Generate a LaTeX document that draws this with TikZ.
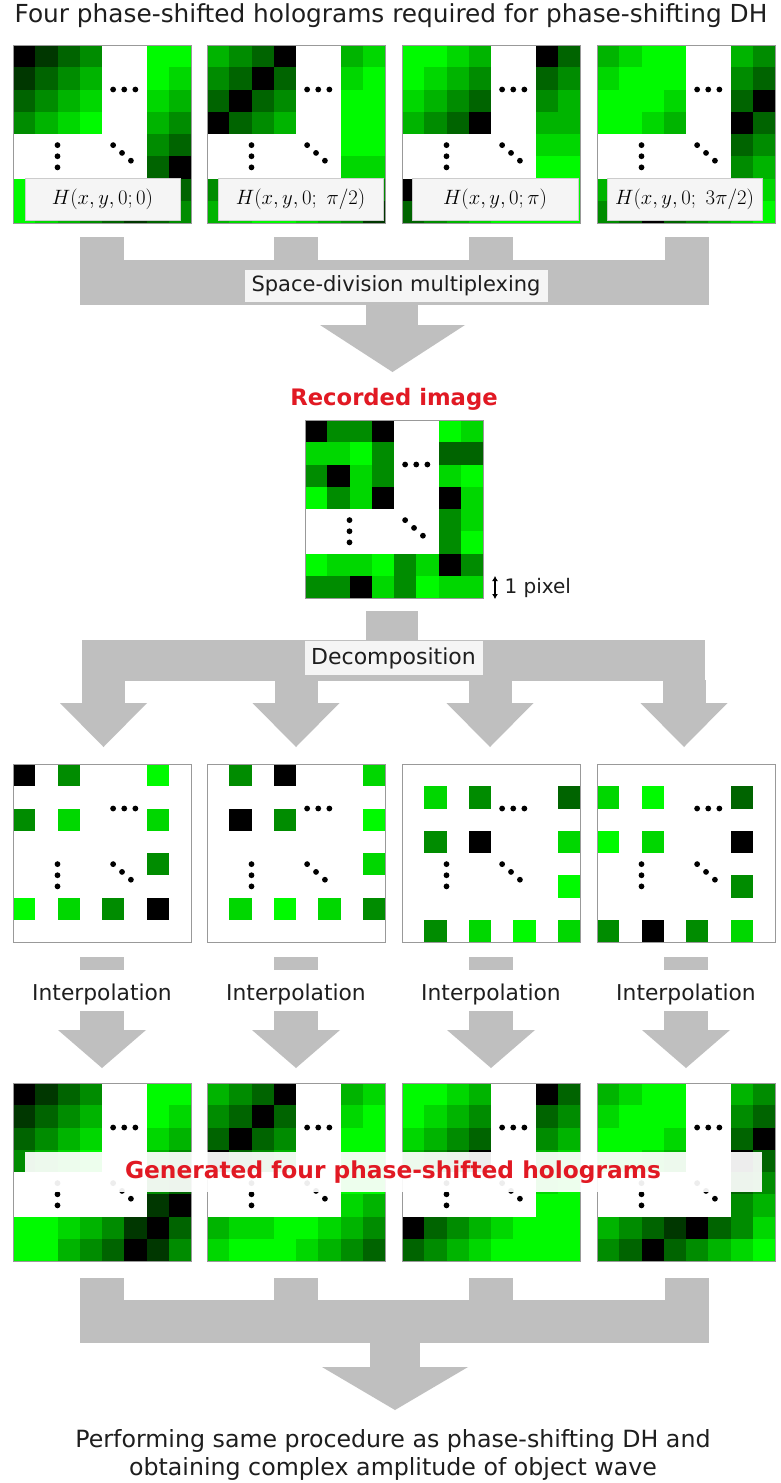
\documentclass[tikz,border=0pt]{standalone}
\usepackage{fontspec}
\setmainfont{DejaVu Sans}
\usetikzlibrary{arrows.meta}
\definecolor{k0}{RGB}{0,0,0}
\definecolor{k1}{RGB}{0,55,0}
\definecolor{k2}{RGB}{0,100,0}
\definecolor{k3}{RGB}{0,140,0}
\definecolor{k4}{RGB}{0,180,0}
\definecolor{k5}{RGB}{0,215,0}
\definecolor{k6}{RGB}{0,250,0}
\definecolor{ww}{RGB}{255,255,255}
\definecolor{ag}{RGB}{191,191,191}
\definecolor{redt}{RGB}{225,25,35}
\definecolor{lblfill}{RGB}{245,245,245}
\definecolor{txt}{RGB}{30,30,30}
\def\cellsz{22.25}
\newcommand\pixpanel[3]{%
  \foreach \prowlist [count=\prow from 0] in {#3}{%
    \foreach \pk [count=\pcol from 0] in \prowlist {%
      \fill[\pk] ({#1+\pcol*\cellsz},{#2+\prow*\cellsz}) rectangle ++(\cellsz+0.4,\cellsz+0.4);
    }%
  }%
}
\newcommand\sparsepanel[3]{%
  \foreach \pr/\pc/\pk in {#3}{%
    \fill[\pk] ({#1+\pc*\cellsz},{#2+\pr*\cellsz}) rectangle ++(\cellsz,\cellsz);
  }%
}
\newcommand\pdots[2]{%
  \foreach \dx/\dy in {4.5/2,5/2,5.5/2,2/4.5,2/5,2/5.5,4.5/4.5,4.9/4.85,5.3/5.2}{%
    \fill ({#1+\dx*\cellsz},{#2+\dy*\cellsz}) circle (2.9pt);
  }%
}
\newcommand\pframe[2]{\draw[gray!80, line width=0.8] (#1,#2) rectangle ++(178,178);}
\tikzset{
  lbl/.style={fill=lblfill, draw=gray!40, line width=0.6, inner sep=0pt, font=\fontsize{20}{23}\selectfont},
  barlbl/.style={fill=lblfill, inner sep=0pt, text=txt},
  redlbl/.style={text=redt, font=\fontsize{22.7}{26}\selectfont\bfseries},
  plain/.style={text=txt},
}
\begin{document}
\begin{tikzpicture}[x=1pt,y=-1pt]
\useasboundingbox (0,0) rectangle (781,1483);
\fill[white] (0,0) rectangle (781,1483);

% ---------- title
\node[plain, font=\fontsize{24.8}{28}\selectfont] (title) at (391,16) {Four phase-shifted holograms required for phase-shifting DH};

% ---------- top holograms
\pixpanel{13}{45}{{k0,k1,k2,k3,ww,ww,k6,k6},{k1,k2,k3,k4,ww,ww,k6,k5},{k2,k3,k4,k5,ww,ww,k5,k4},{k3,k4,k5,k6,ww,ww,k4,k3},{ww,ww,ww,ww,ww,ww,k3,k2},{ww,ww,ww,ww,ww,ww,k2,k0},{k6,k6,k5,k4,k3,k2,k1,k2},{k6,k5,k4,k3,k2,k1,k2,k3}}
\pixpanel{207}{45}{{k4,k3,k2,k0,ww,ww,k4,k5},{k3,k2,k0,k2,ww,ww,k5,k6},{k2,k0,k2,k3,ww,ww,k6,k6},{k0,k2,k3,k4,ww,ww,k6,k6},{ww,ww,ww,ww,ww,ww,k6,k6},{ww,ww,ww,ww,ww,ww,k5,k5},{k3,k4,k5,k6,k6,k5,k4,k3},{k4,k5,k6,k6,k5,k4,k3,k1}}
\pixpanel{402}{45}{{k6,k6,k5,k4,ww,ww,k0,k2},{k6,k5,k4,k3,ww,ww,k2,k3},{k5,k4,k3,k2,ww,ww,k3,k4},{k4,k3,k2,k0,ww,ww,k4,k4},{ww,ww,ww,ww,ww,ww,k5,k5},{ww,ww,ww,ww,ww,ww,k6,k6},{k0,k2,k3,k4,k5,k6,k6,k6},{k2,k3,k4,k5,k6,k6,k6,k6}}
\pixpanel{597}{45}{{k4,k5,k6,k6,ww,ww,k4,k3},{k5,k6,k6,k6,ww,ww,k3,k2},{k6,k6,k6,k5,ww,ww,k2,k0},{k6,k6,k5,k4,ww,ww,k0,k2},{ww,ww,ww,ww,ww,ww,k2,k3},{ww,ww,ww,ww,ww,ww,k3,k4},{k4,k3,k2,k1,k0,k2,k4,k5},{k3,k2,k0,k2,k3,k4,k5,k6}}
\foreach \px in {13,207,402,597}{\pdots{\px}{45}\pframe{\px}{45}}
\node[lbl, minimum width=155, minimum height=42] (h1) at (102.5,199) {$H(x,y,0;0)$};
\node[lbl, minimum width=165, minimum height=42] (h2) at (300.5,199) {$H(x,y,0;\ \pi/2)$};
\node[lbl, minimum width=166, minimum height=42] (h3) at (495,199) {$H(x,y,0;\pi)$};
\node[lbl, minimum width=155, minimum height=42] (h4) at (684.5,199) {$H(x,y,0;\ 3\pi/2)$};

% ---------- multiplexing arrow
\foreach \cx in {102,296,491,687}{\fill[ag] (\cx-22,237) rectangle (\cx+22,262);}
\fill[ag] (80,260) rectangle (709,305);
\fill[ag] (366,304) rectangle (418,326);
\fill[ag] (320,325) -- (465,325) -- (392.5,372) -- cycle;
\node[barlbl, minimum width=303, minimum height=32, font=\fontsize{21}{24}\selectfont] (sdm) at (396,286) {Space-division multiplexing};

% ---------- recorded image
\node[redlbl] (rec) at (394,399) {Recorded image};
\pixpanel{305}{420}{{k0,k3,k3,k0,ww,ww,k6,k5},{k5,k5,k6,k3,ww,ww,k2,k2},{k3,k0,k5,k3,ww,ww,k5,k6},{k6,k3,k5,k0,ww,ww,k0,k5},{ww,ww,ww,ww,ww,ww,k3,k5},{ww,ww,ww,ww,ww,ww,k3,k6},{k6,k5,k5,k6,k3,k5,k0,k3},{k3,k3,k0,k5,k3,k6,k5,k5}}
\pdots{305}{420}\pframe{305}{420}
\coordinate (pa) at (495,576);
\coordinate (pb) at (495,599);
\draw[{Latex[length=5pt,width=6pt]}-{Latex[length=5pt,width=6pt]}, line width=1.8] (pa) -- (pb);
\node[text=txt, anchor=west, font=\fontsize{20}{23}\selectfont] (onepix) at (501,588) {1 pixel};

% ---------- decomposition arrow
\fill[ag] (366,611) rectangle (418,641);
\fill[ag] (82,640) rectangle (705,681);
\foreach \cx in {103.5,296,490,684}{%
  \fill[ag] (\cx-21.5,680) rectangle (\cx+21.5,704);
  \fill[ag] (\cx-43.5,703) -- (\cx+43.5,703) -- (\cx,747) -- cycle;}
\node[barlbl, minimum width=178, minimum height=34, font=\fontsize{22}{25}\selectfont] (dec) at (393.5,658) {Decomposition};

% ---------- decomposed holograms
\sparsepanel{13}{764}{0/0/k0,0/2/k3,0/6/k6,2/0/k3,2/2/k5,2/6/k5,4/6/k3,6/0/k6,6/2/k5,6/4/k3,6/6/k0}
\sparsepanel{207}{764}{0/1/k3,0/3/k0,0/7/k5,2/1/k0,2/3/k3,2/7/k6,4/7/k5,6/1/k5,6/3/k6,6/5/k5,6/7/k3}
\sparsepanel{402}{764}{1/1/k5,1/3/k3,1/7/k2,3/1/k3,3/3/k0,3/7/k5,5/7/k6,7/1/k3,7/3/k5,7/5/k6,7/7/k5}
\sparsepanel{597}{764}{1/0/k5,1/2/k6,1/6/k2,3/0/k6,3/2/k5,3/6/k0,5/6/k3,7/0/k3,7/2/k0,7/4/k3,7/6/k5}
\foreach \px in {13,207,402,597}{\pdots{\px}{764}\pframe{\px}{764}}

% ---------- interpolation arrows
\foreach \cx/\nm in {102/i1,296/i2,491/i3,686/i4}{%
  \fill[ag] (\cx-22,957) rectangle (\cx+22,970);
  \node[plain, font=\fontsize{21.8}{25}\selectfont] (\nm) at (\cx,994) {Interpolation};
  \fill[ag] (\cx-22,1011) rectangle (\cx+22,1031);
  \fill[ag] (\cx-44,1030) -- (\cx+44,1030) -- (\cx,1068) -- cycle;}

% ---------- generated holograms
\pixpanel{13}{1083}{{k0,k1,k2,k3,ww,ww,k6,k6},{k1,k2,k3,k4,ww,ww,k6,k5},{k2,k3,k4,k5,ww,ww,k5,k4},{k3,k4,k5,k6,ww,ww,k4,k3},{ww,ww,ww,ww,ww,ww,k3,k2},{ww,ww,ww,ww,ww,ww,k1,k0},{k6,k6,k5,k4,k3,k1,k0,k2},{k6,k6,k4,k3,k2,k0,k1,k3}}
\pixpanel{207}{1083}{{k4,k3,k2,k0,ww,ww,k4,k5},{k3,k2,k0,k2,ww,ww,k5,k6},{k2,k0,k2,k3,ww,ww,k6,k6},{k0,k2,k3,k4,ww,ww,k6,k6},{ww,ww,ww,ww,ww,ww,k6,k6},{ww,ww,ww,ww,ww,ww,k5,k4},{k4,k5,k5,k6,k6,k5,k4,k3},{k5,k6,k6,k6,k5,k4,k3,k2}}
\pixpanel{402}{1083}{{k6,k6,k5,k4,ww,ww,k0,k2},{k6,k5,k4,k3,ww,ww,k2,k3},{k5,k4,k3,k2,ww,ww,k3,k4},{k4,k3,k2,k0,ww,ww,k4,k5},{ww,ww,ww,ww,ww,ww,k5,k6},{ww,ww,ww,ww,ww,ww,k6,k6},{k0,k2,k3,k4,k5,k6,k6,k6},{k2,k3,k4,k5,k6,k6,k6,k6}}
\pixpanel{597}{1083}{{k4,k5,k6,k6,ww,ww,k4,k3},{k5,k6,k6,k6,ww,ww,k3,k2},{k6,k6,k6,k5,ww,ww,k2,k0},{k6,k6,k5,k4,ww,ww,k0,k2},{ww,ww,ww,ww,ww,ww,k2,k3},{ww,ww,ww,ww,ww,ww,k3,k4},{k4,k3,k2,k1,k0,k2,k3,k5},{k3,k2,k0,k2,k3,k4,k5,k6}}
\foreach \px in {13,207,402,597}{\pdots{\px}{1083}\pframe{\px}{1083}}
\fill[white, opacity=0.93] (25,1152) rectangle (762,1192);
\node[redlbl, font=\fontsize{23.3}{26}\selectfont\bfseries] (gen) at (393,1172) {Generated four phase-shifted holograms};

% ---------- final arrow
\foreach \cx in {102,296,491,687}{\fill[ag] (\cx-22,1278) rectangle (\cx+22,1302);}
\fill[ag] (80,1300) rectangle (709,1343);
\fill[ag] (370,1342) rectangle (420,1368);
\fill[ag] (322,1367) -- (468,1367) -- (395,1410) -- cycle;

% ---------- bottom text
\node[plain, font=\fontsize{23.7}{27}\selectfont] (b1) at (393,1441) {Performing same procedure as phase-shifting DH and};
\node[plain, font=\fontsize{23.7}{27}\selectfont] (b2) at (393,1469) {obtaining complex amplitude of object wave};
\end{tikzpicture}
\end{document}
